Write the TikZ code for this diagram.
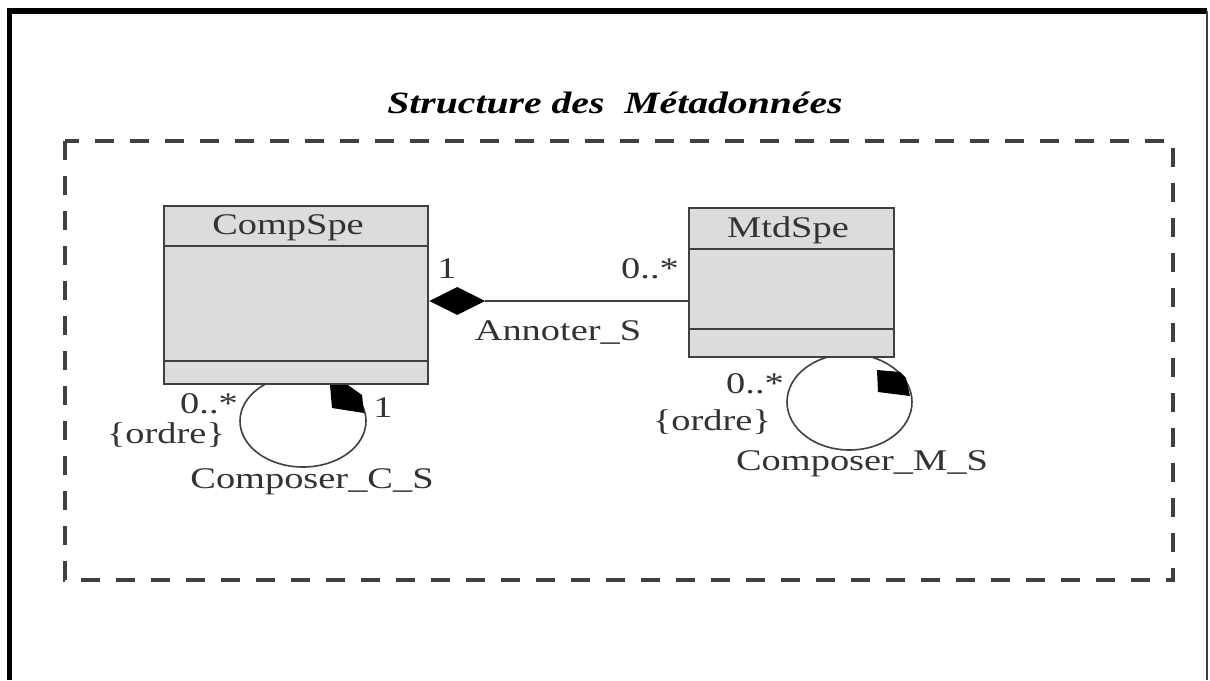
\documentclass[tikz,border=0pt]{standalone}
\usepackage{fontspec}
\setmainfont{Liberation Serif}[FakeStretch=1.28]
\usetikzlibrary{shapes.geometric}
\definecolor{ink}{HTML}{333333}
\definecolor{edge}{HTML}{404040}
\definecolor{classfill}{HTML}{DCDCDC}

\begin{document}
\begin{tikzpicture}[x=1pt,y=-1pt,
  lbl/.style={font=\fontsize{30}{36}\selectfont, text=ink, inner sep=0pt, anchor=base},
  classbox/.style={draw=edge, fill=classfill, line width=2pt, anchor=north west, inner sep=0pt},
  divider/.style={draw=edge, line width=2pt},
  loopring/.style={ellipse, draw=edge, line width=1.6pt, inner sep=0pt},
  assoc/.style={draw=edge, line width=2pt},
  frameline/.style={line width=5.5pt, black},
  pkg/.style={draw=edge, line width=4pt, dash pattern=on 19pt off 16pt}
]
\useasboundingbox (0,0) rectangle (1210,680);
\fill[white] (0,0) rectangle (1210,680);

% outer frame
\draw[frameline] (9.5,680) -- (9.5,11) -- (1207,11);
\draw[line width=2pt, edge] (1207,11) -- (1207,680);

% package boundary
\draw[pkg] (65,141) rectangle (1173,580);

% title
\node[lbl, font=\fontsize{31}{36}\selectfont\bfseries\itshape, text=black] (title) at (615,113) {Structure des\ \ Métadonnées};

% reflexive associations (drawn first, the classes cover their tops)
\node[loopring, minimum width=126, minimum height=92] (loopC) at (303,421) {};
\node[loopring, minimum width=125, minimum height=96] (loopM) at (849.5,402) {};

% class CompSpe
\node[classbox, minimum width=264, minimum height=178] (cs) at (163,205) {};
\draw[divider] (cs.west |- 0,246) -- (cs.east |- 0,246);
\draw[divider] (cs.west |- 0,361) -- (cs.east |- 0,361);
\node[lbl] (csName) at (288,234) {CompSpe};

% class MtdSpe
\node[classbox, minimum width=205, minimum height=149] (ms) at (688,207) {};
\draw[divider] (ms.west |- 0,249) -- (ms.east |- 0,249);
\draw[divider] (ms.west |- 0,329) -- (ms.east |- 0,329);
\node[lbl] (msName) at (788,237) {MtdSpe};

% composition Annoter_S
\node[diamond, fill=black, minimum width=56, minimum height=28, inner sep=0pt, anchor=west] (dA) at (cs.east |- 0,301) {};
\draw[assoc] (dA.east) -- (dA.east -| ms.west);
\node[lbl] (aOne) at (447,278) {1};
\node[lbl] (aMany) at (650,278) {0..*};
\node[lbl] (aName) at (558,340) {Annoter\_S};

% composition ends of the loops
\fill[black] (330,385) -- (348,385) -- (362,395) -- (364,413) -- (332,408) -- cycle;
\fill[black] (877,370) -- (900,372) -- (906,378) -- (910,396) -- (878,392) -- cycle;

% Composer_C_S labels
\node[lbl] (cMany) at (209,413) {0..*};
\node[lbl] (cOrd) at (166,443) {\{ordre\}};
\node[lbl] (cOne) at (383,417) {1};
\node[lbl] (cName) at (312,488) {Composer\_C\_S};

% Composer_M_S labels
\node[lbl] (mMany) at (755,393) {0..*};
\node[lbl] (mOrd) at (712,430) {\{ordre\}};
\node[lbl] (mName) at (862,470) {Composer\_M\_S};
\end{tikzpicture}
\end{document}
